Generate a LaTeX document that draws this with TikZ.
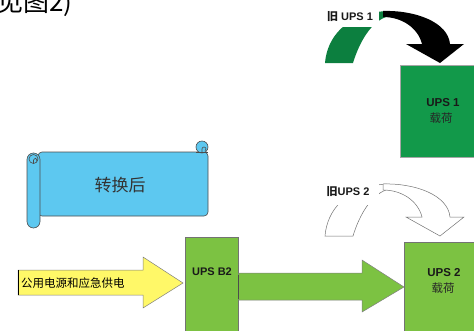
\documentclass[tikz,border=0pt]{standalone}
\usepackage{fontspec}
\setmainfont{Liberation Sans}
\newfontfamily\cjk{Noto Sans CJK SC}
\definecolor{dkgreen}{HTML}{12994A}
\definecolor{tailgreen}{HTML}{0C7F3F}
\definecolor{ltgreen}{HTML}{7CC242}
\definecolor{paleyellow}{HTML}{FFF868}
\definecolor{scrollblue}{HTML}{5DC8F0}
\begin{document}
\begin{tikzpicture}[x=1pt,y=-1pt,
  boxstyle/.style={rectangle, draw=black!55, line width=0.7pt, inner sep=0pt, anchor=north west},
  upstext/.style={font=\fontsize{11.5}{14}\selectfont\bfseries, text=black!90, inner sep=0pt},
  loadtext/.style={font=\cjk\fontsize{11.5}{14}\selectfont, text=black!85, inner sep=0pt},
  oldlabel/.style={fill=white, inner sep=0pt, minimum width=58pt, font=\fontsize{11}{12}\selectfont\bfseries, text=black!90},
  blockarrow/.style={draw=black!50, line width=0.5pt},
  scrollline/.style={draw=black!70, line width=0.6pt},
  cdarrow/.pic={
    \path[cdtail] (325,63) .. controls (327,38) and (345,14) .. (386,11) -- (386,17) .. controls (372,22) and (360,40) .. (353,63) -- cycle;
    \path[cdhead] (383,11) .. controls (415,10) and (448,22) .. (450,44) -- (464,44) -- (440,63) -- (406,44) -- (422,44) .. controls (418,28) and (402,17) .. (383,17) -- cycle;
  }
]
\useasboundingbox (0,0) rectangle (474,330);

% heading fragment at top left (cut by the top edge, as in the reference)
\node[anchor=south west, inner sep=0pt, font=\cjk\fontsize{26}{28}\selectfont] (head) at (-3,17) {见图2)};

% ---------- UPS 1 (top) ----------
\begin{scope}[cdtail/.style={fill=tailgreen}, cdhead/.style={fill=black}]
  \pic at (0,0) {cdarrow};
\end{scope}
\node[oldlabel, minimum height=20pt] (old1) at (350,17) {{\cjk 旧} UPS 1};
\node[boxstyle, fill=dkgreen, draw=black!35, minimum width=80pt, minimum height=92pt] (ups1) at (400,65) {};
\node[upstext] (ups1t) at (443,103) {UPS 1};
\node[loadtext] (ups1l) at (441,118) {载荷};

% ---------- scroll ----------
\draw[scrollline, fill=scrollblue, rounded corners=4pt] (38,152) -- (208,152) -- (208,216) -- (38,216) -- cycle;
\draw[scrollline, fill=scrollblue] (202,147) circle (6);
\draw[scrollline] (196,152) -- (208,152);
\draw[scrollline] (202,152) -- (202,149) arc[start angle=180, end angle=420, radius=2];
\draw[scrollline, fill=scrollblue, rounded corners=6.5pt] (27,153) rectangle (40,228);
\draw[scrollline] (33.5,159) circle (4.5);
\draw[scrollline] (33.5,163.5) -- (33.5,160) arc[start angle=180, end angle=420, radius=1.8];
\node[font=\cjk\fontsize{17}{20}\selectfont, text=black!80] (scrolltext) at (120,185) {转换后};

% ---------- UPS 2 (bottom) ----------
\begin{scope}[cdtail/.style={fill=white, draw=black!55, line width=0.5pt}, cdhead/.style={fill=white, draw=black!55, line width=0.5pt}]
  \pic at (0,173) {cdarrow};
\end{scope}
\node[oldlabel, minimum height=22pt] (old2) at (350,194) {};
\node[font=\fontsize{11}{12}\selectfont\bfseries, text=black!90, inner sep=0pt] (old2t) at (348,192) {{\cjk 旧}UPS 2};

\node[boxstyle, fill=ltgreen, minimum width=53pt, minimum height=100pt] (b2) at (185,237) {};
\node[upstext, font=\fontsize{11}{13}\selectfont\bfseries] (b2t) at (212,272) {UPS B2};

\node[boxstyle, fill=ltgreen, minimum width=76pt, minimum height=95pt] (ups2) at (404,242) {};
\node[upstext] (ups2t) at (444,273) {UPS 2};
\node[loadtext] (ups2l) at (443,288) {载荷};

% yellow input arrow
\draw[blockarrow, fill=paleyellow] (18,270) -- (143,270) -- (143,257) -- (183,283) -- (143,308) -- (143,295) -- (18,295) -- cycle;
\draw[black, line width=1.6pt] (18.5,270) -- (18.5,295);
\node[anchor=west, inner sep=0pt, font=\cjk\fontsize{11.5}{14}\selectfont] (supply) at (21,283) {公用电源和应急供电};

% green arrow from B2 to UPS 2
\draw[blockarrow, fill=ltgreen] (b2.east |- 0,273) -- (362,273) -- (362,260) -- (ups2.west |- 0,287) -- (362,312) -- (362,300) -- (b2.east |- 0,300) -- cycle;
\draw[black!70, line width=1.2pt] (b2.east |- 0,275) -- (b2.east |- 0,299);
\end{tikzpicture}
\end{document}
